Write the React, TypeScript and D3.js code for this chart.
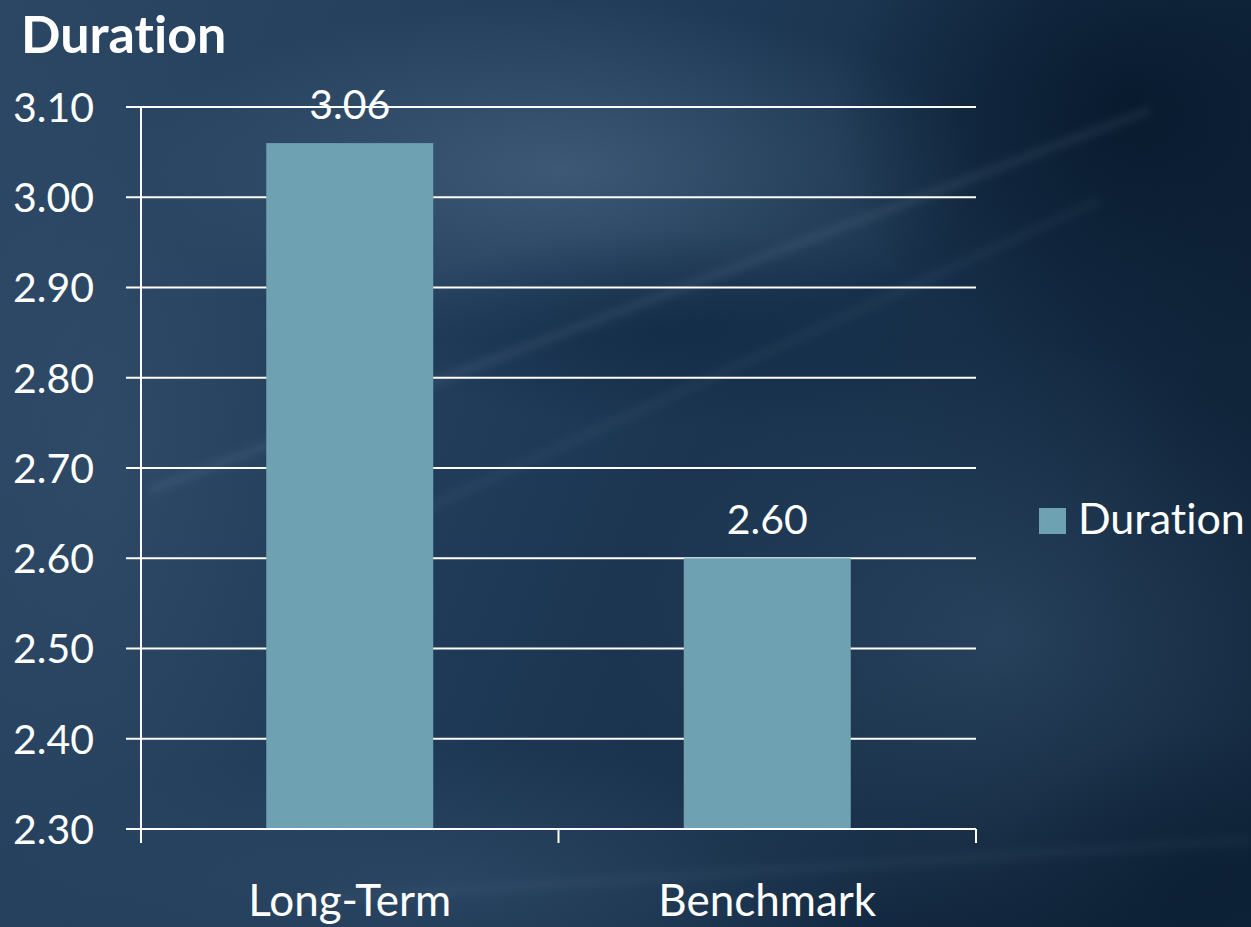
import React, { useEffect, useRef } from 'react';
import * as d3 from 'd3';

const categories = ['Long-Term', 'Benchmark'];
const durationValues = [3.06, 2.6];
const yTicks = [2.3, 2.4, 2.5, 2.6, 2.7, 2.8, 2.9, 3.0, 3.1];
const seriesName = 'Duration';

const W = 1251;
const H = 927;
const FONT = 'Lato, "Open Sans", sans-serif';

const App: React.FC = () => {
  const svgRef = useRef<SVGSVGElement>(null);

  useEffect(() => {
    document.body.style.margin = '0';
    if (!svgRef.current) return;
    const svg = d3.select(svgRef.current);
    svg.selectAll('*').remove();
    svg.style('font-variant-ligatures', 'none');

    const plot = { left: 141, right: 976, top: 107, bottom: 829 };

    // background
    const defs = svg.append('defs');
    const base = defs.append('linearGradient').attr('id', 'bg').attr('x1', 0).attr('y1', 0).attr('x2', 1).attr('y2', 0.3);
    base.append('stop').attr('offset', '0%').attr('stop-color', '#2b4764');
    base.append('stop').attr('offset', '45%').attr('stop-color', '#213d5a');
    base.append('stop').attr('offset', '80%').attr('stop-color', '#172f49');
    base.append('stop').attr('offset', '100%').attr('stop-color', '#10243a');

    defs.append('filter').attr('id', 'blur')
      .append('feGaussianBlur').attr('stdDeviation', 4);

    const glows = [
      { id: 'g1', cx: 560, cy: 170, rx: 420, ry: 170, color: '#48647f', op: 0.7 },
      { id: 'g2', cx: 1000, cy: 640, rx: 380, ry: 300, color: '#35526f', op: 0.6 },
      { id: 'g3', cx: 100, cy: 450, rx: 220, ry: 450, color: '#34506c', op: 0.55 },
      { id: 'g4', cx: 450, cy: 880, rx: 450, ry: 130, color: '#34506c', op: 0.55 },
      { id: 'g5', cx: 680, cy: 330, rx: 300, ry: 100, color: '#0f2843', op: 0.7 },
      { id: 'g6', cx: 1130, cy: 110, rx: 300, ry: 260, color: '#06172a', op: 0.85 },
      { id: 'g7', cx: 1200, cy: 880, rx: 200, ry: 150, color: '#0a1d31', op: 0.6 },
    ];
    glows.forEach(g => {
      const rg = defs.append('radialGradient').attr('id', g.id);
      rg.append('stop').attr('offset', '0%').attr('stop-color', g.color).attr('stop-opacity', g.op);
      rg.append('stop').attr('offset', '100%').attr('stop-color', g.color).attr('stop-opacity', 0);
    });

    svg.append('rect').attr('width', W).attr('height', H).attr('fill', 'url(#bg)');
    glows.forEach(g => {
      svg.append('ellipse')
        .attr('cx', g.cx).attr('cy', g.cy).attr('rx', g.rx).attr('ry', g.ry)
        .attr('fill', `url(#${g.id})`);
    });
    // faint light streaks
    const streaks = [
      [150, 490, 1150, 110, 0.09],
      [400, 520, 1100, 200, 0.05],
      [300, 900, 1251, 840, 0.05],
    ];
    const streakG = svg.append('g').attr('filter', 'url(#blur)');
    streaks.forEach(([x1, y1, x2, y2, o]) => {
      streakG.append('line')
        .attr('x1', x1).attr('y1', y1).attr('x2', x2).attr('y2', y2)
        .attr('stroke', '#c8d8e8').attr('stroke-opacity', o).attr('stroke-width', 8);
    });

    const x = d3.scaleBand().domain(categories).range([plot.left, plot.right]).padding(0);
    const y = d3.scaleLinear().domain([2.3, 3.1]).range([plot.bottom, plot.top]);
    const barW = x.bandwidth() * 0.4;

    // gridlines (include the y tick marks on the left)
    svg.append('g')
      .selectAll('line')
      .data(yTicks)
      .enter()
      .append('line')
      .attr('x1', plot.left - 15)
      .attr('x2', plot.right)
      .attr('y1', d => y(d))
      .attr('y2', d => y(d))
      .attr('stroke', '#ffffff')
      .attr('stroke-width', 2);

    // bars
    svg.append('g')
      .selectAll('rect')
      .data(categories)
      .enter()
      .append('rect')
      .attr('x', (d) => (x(d) || 0) + (x.bandwidth() - barW) / 2)
      .attr('width', barW)
      .attr('y', (_d, i) => y(durationValues[i]))
      .attr('height', (_d, i) => plot.bottom - y(durationValues[i]))
      .attr('fill', '#6ea1b1');

    // axes
    svg.append('line')
      .attr('x1', plot.left).attr('x2', plot.left)
      .attr('y1', plot.top).attr('y2', plot.bottom + 14)
      .attr('stroke', '#ffffff').attr('stroke-width', 2);
    svg.append('line')
      .attr('x1', plot.left).attr('x2', plot.right)
      .attr('y1', plot.bottom).attr('y2', plot.bottom)
      .attr('stroke', '#ffffff').attr('stroke-width', 2);
    const xTickPos = [...categories.map(c => x(c) || 0), plot.right];
    svg.append('g')
      .selectAll('line')
      .data(xTickPos)
      .enter()
      .append('line')
      .attr('x1', d => d).attr('x2', d => d)
      .attr('y1', plot.bottom).attr('y2', plot.bottom + 14)
      .attr('stroke', '#ffffff').attr('stroke-width', 2);

    // y tick labels
    svg.append('g')
      .selectAll('text')
      .data(yTicks)
      .enter()
      .append('text')
      .attr('x', 94)
      .attr('y', d => y(d))
      .attr('dy', '0.36em')
      .attr('text-anchor', 'end')
      .attr('font-family', FONT)
      .attr('font-size', 41)
      .attr('fill', '#ffffff')
      .text(d => d3.format('.2f')(d));

    // category labels
    svg.append('g')
      .selectAll('text')
      .data(categories)
      .enter()
      .append('text')
      .attr('x', d => (x(d) || 0) + x.bandwidth() / 2)
      .attr('y', 916)
      .attr('text-anchor', 'middle')
      .attr('font-family', FONT)
      .attr('font-size', 44)
      .attr('fill', '#ffffff')
      .text(d => d);

    // value labels
    svg.append('g')
      .selectAll('text')
      .data(categories)
      .enter()
      .append('text')
      .attr('x', d => (x(d) || 0) + x.bandwidth() / 2)
      .attr('y', (_d, i) => y(durationValues[i]) - 24)
      .attr('text-anchor', 'middle')
      .attr('font-family', FONT)
      .attr('font-size', 41)
      .attr('fill', '#ffffff')
      .text((_d, i) => d3.format('.2f')(durationValues[i]));

    // title
    svg.append('text')
      .attr('x', 21)
      .attr('y', 53)
      .attr('font-family', FONT)
      .attr('font-weight', 'bold')
      .attr('font-size', 52)
      .attr('fill', '#ffffff')
      .text(seriesName);

    // legend
    const legend = svg.append('g').attr('transform', 'translate(1039,508)');
    legend.append('rect').attr('width', 27).attr('height', 26).attr('fill', '#6ea1b1');
    legend.append('text')
      .attr('x', 39)
      .attr('y', 26)
      .attr('font-family', FONT)
      .attr('font-size', 43)
      .attr('fill', '#ffffff')
      .text(seriesName);
  }, []);

  return <svg ref={svgRef} width={W} height={H} style={{ display: 'block' }} />;
};

export default App;
